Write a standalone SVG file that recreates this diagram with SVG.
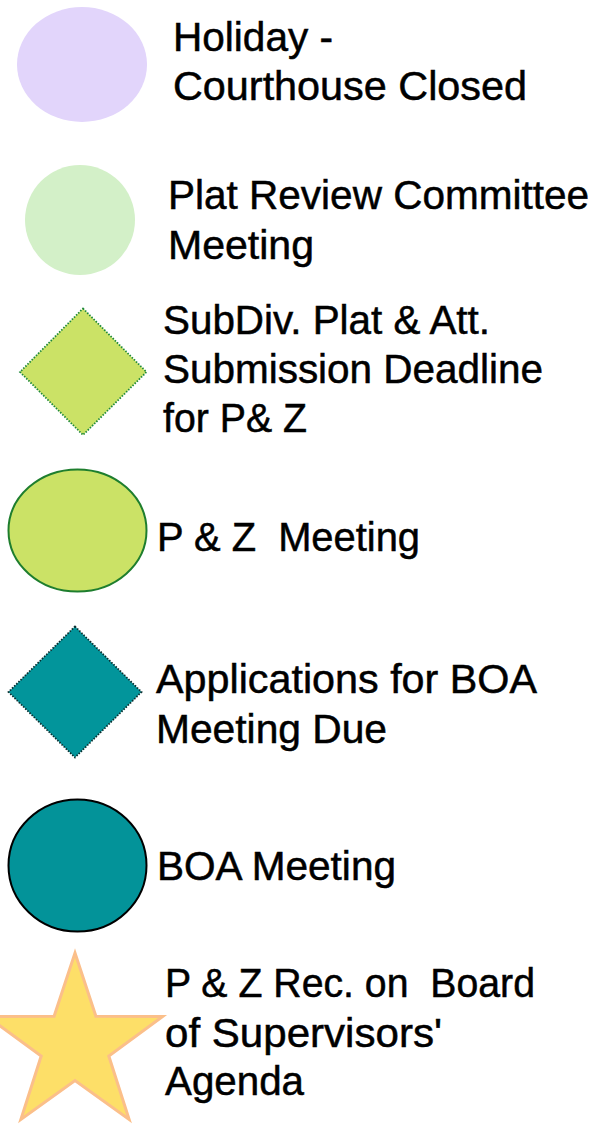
<svg xmlns="http://www.w3.org/2000/svg" width="597" height="1125" viewBox="0 0 597 1125">
<style>
text{font-family:"Liberation Sans",Arial,sans-serif;font-size:40px;fill:#000;stroke:#000;stroke-width:0.5}
</style>
<rect width="597" height="1125" fill="#fff"/>
<g id="holiday">
<ellipse cx="82" cy="64.5" rx="65" ry="57.5" fill="#e2d5fb"/>
<text x="173" y="51" textLength="160" lengthAdjust="spacingAndGlyphs">Holiday -</text>
<text x="173" y="100" textLength="354" lengthAdjust="spacingAndGlyphs">Courthouse Closed</text>
</g>
<g id="plat-review">
<circle cx="80" cy="220" r="55" fill="#d3f0c8"/>
<text x="168" y="209" textLength="421" lengthAdjust="spacingAndGlyphs">Plat Review Committee</text>
<text x="168" y="259" textLength="146" lengthAdjust="spacingAndGlyphs">Meeting</text>
</g>
<g id="subdiv">
<polygon points="83,308.5 146.5,372 83,435 20,372" fill="#cbe266" stroke="#1f8a3a" stroke-width="1.8" stroke-dasharray="1.5 1.5"/>
<text x="163" y="334" textLength="327" lengthAdjust="spacingAndGlyphs">SubDiv. Plat &amp; Att.</text>
<text x="163" y="383" textLength="380" lengthAdjust="spacingAndGlyphs">Submission Deadline</text>
<text x="163" y="432" textLength="144" lengthAdjust="spacingAndGlyphs">for P&amp; Z</text>
</g>
<g id="pz-meeting">
<ellipse cx="77.5" cy="530.5" rx="69" ry="61" fill="#cbe266" stroke="#1e7e2e" stroke-width="2"/>
<text x="157" y="551" xml:space="preserve" textLength="263" lengthAdjust="spacingAndGlyphs">P &amp; Z  Meeting</text>
</g>
<g id="boa-apps">
<polygon points="75,626.5 141.5,692 75,757.5 8.5,692" fill="#02959b" stroke="#0b2f30" stroke-width="1.8" stroke-dasharray="1.5 1.5"/>
<text x="156" y="693" textLength="381" lengthAdjust="spacingAndGlyphs">Applications for BOA</text>
<text x="156" y="743" textLength="231" lengthAdjust="spacingAndGlyphs">Meeting Due</text>
</g>
<g id="boa-meeting">
<ellipse cx="77.5" cy="865.5" rx="69" ry="66" fill="#039399" stroke="#000" stroke-width="2"/>
<text x="157" y="880" textLength="239" lengthAdjust="spacingAndGlyphs">BOA Meeting</text>
</g>
<g id="bos-agenda">
<polygon points="75,953 95.9,1016.3 162.5,1016.6 108.8,1056 129.1,1119.4 75,1080.5 20.9,1119.4 41.2,1056 -12.5,1016.6 54.1,1016.3" fill="#fddf68" stroke="#fbbf8a" stroke-width="3" stroke-linejoin="miter"/>
<text x="165" y="997" xml:space="preserve" textLength="370" lengthAdjust="spacingAndGlyphs">P &amp; Z Rec. on  Board</text>
<text x="165" y="1047" textLength="277" lengthAdjust="spacingAndGlyphs">of Supervisors'</text>
<text x="165" y="1095" textLength="139" lengthAdjust="spacingAndGlyphs">Agenda</text>
</g>
<g id="connectors"/>
</svg>
